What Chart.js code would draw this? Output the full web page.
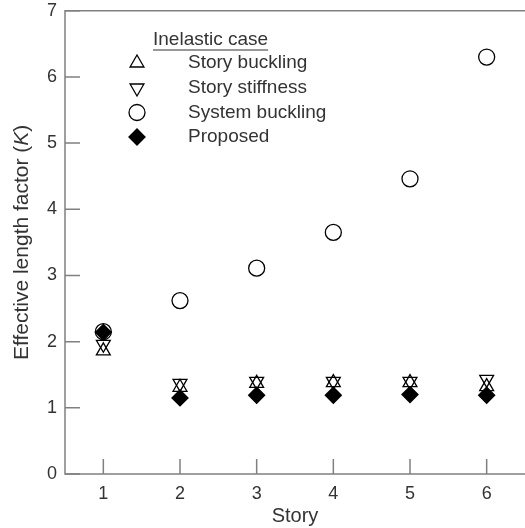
<!DOCTYPE html>
<html>
<head>
<meta charset="utf-8">
<script src="https://cdn.jsdelivr.net/npm/chart.js@4.4.1/dist/chart.umd.min.js"></script>
<style>
  html, body { margin: 0; padding: 0; background: #fff; }
  #wrap { width: 525px; height: 528px; position: relative; }
</style>
</head>
<body>
<div id="wrap"><canvas id="c" width="525" height="528"></canvas></div>
<script>
// Effective length factor K per story, inelastic case
const stories = [1, 2, 3, 4, 5, 6];
const storyBuckling   = [1.86, 1.31, 1.37, 1.38, 1.38, 1.32];
const storyStiffness  = [1.96, 1.37, 1.40, 1.40, 1.40, 1.43];
const systemBuckling  = [2.15, 2.62, 3.11, 3.65, 4.46, 6.30];
const proposed        = [2.14, 1.15, 1.19, 1.19, 1.20, 1.19];

const xTicks = [1, 2, 3, 4, 5, 6];
const yTicks = [0, 1, 2, 3, 4, 5, 6, 7];

const legendTitle = 'Inelastic case';
const legendLabels = ['Story buckling', 'Story stiffness', 'System buckling', 'Proposed'];
const xTitle = 'Story';
const yTitleParts = ['Effective length factor (', 'K', ')'];

const FONT = '"Liberation Sans", Arial, Helvetica, sans-serif';
const TEXT = '#333333';
const LINE = '#808080';

const pts = (ys) => stories.map((s, i) => ({ x: s, y: ys[i] }));

const styles = [
  { pointStyle: 'triangle', rotation: 0,   fill: 'rgba(0,0,0,0)', r: 8 },
  { pointStyle: 'triangle', rotation: 180, fill: 'rgba(0,0,0,0)', r: 8 },
  { pointStyle: 'circle',   rotation: 0,   fill: 'rgba(0,0,0,0)', r: 8 },
  { pointStyle: 'rectRot',  rotation: 0,   fill: '#000000',       r: 8 }
];
const series = [storyBuckling, storyStiffness, systemBuckling, proposed];
const orders = [1, 2, 3, 0];

const datasets = series.map((ys, i) => ({
  label: legendLabels[i],
  data: pts(ys),
  showLine: false,
  pointStyle: styles[i].pointStyle,
  rotation: styles[i].rotation,
  pointRadius: styles[i].r,
  pointHoverRadius: styles[i].r,
  backgroundColor: styles[i].fill,
  borderColor: '#000000',
  borderWidth: 1.3,
  clip: false,
  order: orders[i]
}));

const noPad = s => { s.paddingTop = 0; s.paddingBottom = 0; s.paddingLeft = 0; s.paddingRight = 0; };

// Frame, inward tick marks, axis title and key
const decorations = {
  id: 'decorations',
  afterDraw(chart) {
    const { ctx, chartArea: a, scales } = chart;
    const xs = scales.x, ys = scales.y;
    ctx.save();
    ctx.strokeStyle = LINE;
    ctx.lineWidth = 1.5;
    ctx.beginPath();
    ctx.moveTo(a.right + 2, a.top); ctx.lineTo(a.left, a.top);
    ctx.lineTo(a.left, a.bottom); ctx.lineTo(a.right + 2, a.bottom);
    ctx.stroke();
    const tl = 15;
    ctx.beginPath();
    xTicks.forEach(v => {
      const px = xs.getPixelForValue(v);
      ctx.moveTo(px, a.bottom); ctx.lineTo(px, a.bottom - tl);
    });
    yTicks.forEach(v => {
      const py = ys.getPixelForValue(v);
      ctx.moveTo(a.left, py); ctx.lineTo(a.left + tl, py);
    });
    ctx.stroke();

    // vertical axis title with italic K
    ctx.fillStyle = TEXT;
    ctx.textBaseline = 'middle';
    ctx.textAlign = 'left';
    const fs = 21;
    const fonts = [`${fs}px ${FONT}`, `italic ${fs}px ${FONT}`, `${fs}px ${FONT}`];
    let total = 0;
    const widths = yTitleParts.map((t, i) => { ctx.font = fonts[i]; const w = ctx.measureText(t).width; total += w; return w; });
    ctx.translate(22, (a.top + a.bottom) / 2);
    ctx.rotate(-Math.PI / 2);
    let x0 = -total / 2;
    yTitleParts.forEach((t, i) => { ctx.font = fonts[i]; ctx.fillText(t, x0, 0); x0 += widths[i]; });
    ctx.restore();

    // key
    ctx.save();
    ctx.fillStyle = TEXT;
    ctx.font = `19px ${FONT}`;
    ctx.textBaseline = 'middle';
    ctx.textAlign = 'left';
    const tx = 153, ty = 40;
    ctx.fillText(legendTitle, tx, ty);
    const tw = ctx.measureText(legendTitle).width;
    ctx.strokeStyle = TEXT;
    ctx.lineWidth = 1.2;
    ctx.beginPath(); ctx.moveTo(tx, ty + 10); ctx.lineTo(tx + tw, ty + 10); ctx.stroke();
    const rowY = [63, 88, 112.5, 137];
    legendLabels.forEach((lab, i) => {
      ctx.fillStyle = TEXT;
      ctx.fillText(lab, 188, rowY[i]);
      ctx.fillStyle = styles[i].fill;
      ctx.strokeStyle = '#000000';
      ctx.lineWidth = 1.3;
      Chart.helpers.drawPoint(ctx, {
        pointStyle: styles[i].pointStyle,
        rotation: styles[i].rotation,
        radius: styles[i].r,
        borderWidth: 1.3
      }, 137, rowY[i]);
    });
    ctx.restore();
  }
};

new Chart(document.getElementById('c'), {
  type: 'scatter',
  data: { datasets },
  plugins: [decorations],
  options: {
    responsive: false,
    animation: false,
    devicePixelRatio: 1,
    layout: { autoPadding: false, padding: { top: 10.7, right: 0, left: 0, bottom: 0 } },
    plugins: { legend: { display: false }, tooltip: { enabled: false } },
    scales: {
      x: {
        type: 'linear', min: 0.5, max: 6.5,
        grid: { display: false, drawTicks: false },
        border: { display: false },
        afterBuildTicks: s => { s.ticks = xTicks.map(v => ({ value: v })); },
        afterFit: s => { s.height = 54; noPad(s); },
        ticks: { color: TEXT, font: { family: FONT, size: 18 }, padding: 9, maxRotation: 0 },
        title: { display: true, text: xTitle, color: TEXT, font: { family: FONT, size: 20 }, padding: { top: 0, bottom: 0 } }
      },
      y: {
        type: 'linear', min: 0, max: 7,
        grid: { display: false, drawTicks: false },
        border: { display: false },
        afterBuildTicks: s => { s.ticks = yTicks.map(v => ({ value: v })); },
        afterFit: s => { s.width = 65; noPad(s); },
        ticks: { color: TEXT, font: { family: FONT, size: 18 }, padding: 8 }
      }
    }
  }
});
</script>
</body>
</html>
